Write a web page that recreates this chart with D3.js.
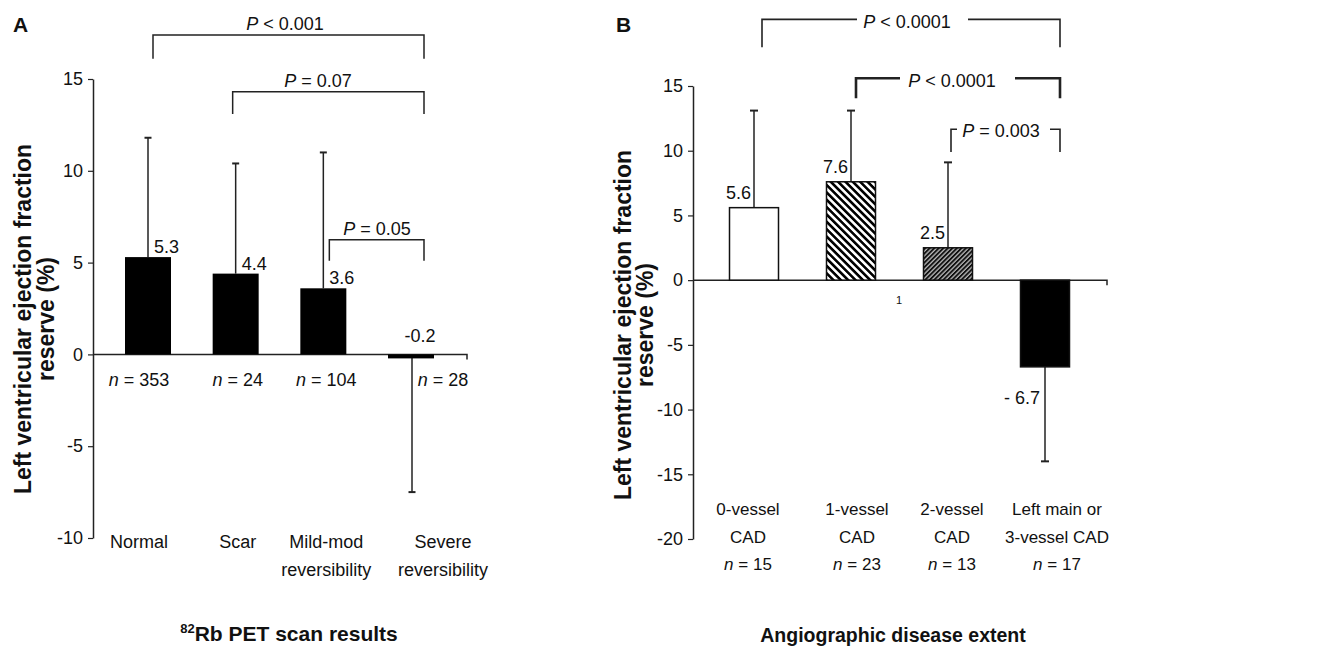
<!DOCTYPE html>
<meta charset="utf-8">
<script src="https://d3js.org/d3.v7.min.js"></script>
<style>
  body { margin: 0; background: #fff; }
  text { font-family: "Liberation Sans", Arial, sans-serif; fill: #111; }
</style>
<svg id="chart" width="1336" height="654"></svg>
<script>

// ---- data: panel A (82Rb PET scan results)
var catsA = ["Normal", "Scar", "Mild-mod reversibility", "Severe reversibility"];
var catLinesA = [["Normal"], ["Scar"], ["Mild-mod", "reversibility"], ["Severe", "reversibility"]];
var meanA = [5.3, 4.4, 3.6, -0.2];
var errEndA = [11.8, 10.4, 11.0, -7.5];
var nA = [353, 24, 104, 28];
var ticksA = [-10, -5, 0, 5, 10, 15];
var bracketsA = [
  { from: "Normal", to: "Severe reversibility", op: "< 0.001" },
  { from: "Scar", to: "Severe reversibility", op: "= 0.07" },
  { from: "Mild-mod reversibility", to: "Severe reversibility", op: "= 0.05" }
];

// ---- data: panel B (angiographic disease extent)
var catsB = ["0-vessel CAD", "1-vessel CAD", "2-vessel CAD", "Left main or 3-vessel CAD"];
var catLinesB = [["0-vessel", "CAD"], ["1-vessel", "CAD"], ["2-vessel", "CAD"], ["Left main or", "3-vessel CAD"]];
var meanB = [5.6, 7.6, 2.5, -6.7];
var meanLabelB = ["5.6", "7.6", "2.5", "- 6.7"];
var errEndB = [13.1, 13.1, 9.1, -14.0];
var nB = [15, 23, 13, 17];
var ticksB = [-20, -15, -10, -5, 0, 5, 10, 15];
var fillB = ["white", "url(#hatchWide)", "url(#hatchFine)", "#000"];
var bracketsB = [
  { from: "0-vessel CAD", to: "Left main or 3-vessel CAD", op: "< 0.0001" },
  { from: "1-vessel CAD", to: "Left main or 3-vessel CAD", op: "< 0.0001" },
  { from: "2-vessel CAD", to: "Left main or 3-vessel CAD", op: "= 0.003" }
];

// ---- layout (not data)
var labelShiftA = [-9, 2, 3, 32];
var labelShiftB = [-6, 6, 4, 12];
var bracketLevelA = [[17.4, 16.1], [14.3, 13.1], [6.25, 5.1]];   // [bar, leg end] in y units
var bracketLevelB = [[20.15, 18.0], [15.6, 14.05], [11.66, 9.9]];

var svg = d3.select("#chart");

// patterns
var defs = svg.append("defs");
var pw = defs.append("pattern").attr("id", "hatchWide")
  .attr("patternUnits", "userSpaceOnUse").attr("width", 5.2).attr("height", 10)
  .attr("patternTransform", "rotate(-45)");
pw.append("rect").attr("width", 5.2).attr("height", 10).attr("fill", "#fff");
pw.append("rect").attr("width", 2.6).attr("height", 10).attr("fill", "#000");
var pf = defs.append("pattern").attr("id", "hatchFine")
  .attr("patternUnits", "userSpaceOnUse").attr("width", 3.2).attr("height", 10)
  .attr("patternTransform", "rotate(45)");
pf.append("rect").attr("width", 3.2).attr("height", 10).attr("fill", "#bbb");
pf.append("rect").attr("width", 1.9).attr("height", 10).attr("fill", "#111");

function pText(g, x, y, op, anchor) {
  var t = g.append("text").attr("x", x).attr("y", y)
    .attr("text-anchor", anchor || "middle").style("font-size", "18px");
  t.append("tspan").style("font-style", "italic").text("P");
  t.append("tspan").text(" " + op);
  return t;
}

function yAxis(g, y, ticks, x0) {
  var ax = g.append("g").attr("transform", "translate(" + x0 + ",0)")
    .call(d3.axisLeft(y).tickValues(ticks).tickSize(5).tickSizeOuter(0).tickPadding(5)
      .tickFormat(function (d) { return String(d); }));
  ax.select(".domain").attr("stroke", "#222").attr("stroke-width", 1.5);
  ax.selectAll(".tick line").attr("stroke", "#222").attr("stroke-width", 1.2);
  ax.selectAll(".tick text").style("font-size", "18px").style("font-family", "Liberation Sans, Arial, sans-serif").attr("fill", "#111");
}

function yTitle(g, cy, x1, x2) {
  var t = g.append("text").attr("transform", "translate(0," + cy + ") rotate(-90)")
    .attr("text-anchor", "middle").style("font-size", "23px").style("font-weight", "bold");
  t.append("tspan").attr("x", 0).attr("y", x1).text("Left ventricular ejection fraction");
  t.append("tspan").attr("x", 0).attr("y", x2).text("reserve (%)");
}

// ================= Panel A =================
var gA = svg.append("g");
var yA = d3.scaleLinear().domain([-10, 15]).range([538, 79]);
var xA = d3.scalePoint().domain(catsA).range([148, 411]);
var bwA = 46, axisXA = 93, endXA = 467;

gA.append("text").attr("x", 13).attr("y", 32).style("font-size", "21px").style("font-weight", "bold").text("A");

yAxis(gA, yA, ticksA, axisXA);
gA.append("path").attr("d", "M" + axisXA + "," + yA(0) + "H" + endXA + "v5")
  .attr("fill", "none").attr("stroke", "#222").attr("stroke-width", 1.5);

// error bars
gA.selectAll(".errA").data(catsA).enter().append("g").each(function (c, i) {
  var x = xA(c) + (i === 3 ? 1 : 0);
  var g = d3.select(this);
  g.append("line").attr("x1", x).attr("x2", x).attr("y1", yA(meanA[i])).attr("y2", yA(errEndA[i]))
    .attr("stroke", "#222").attr("stroke-width", 1.5);
  g.append("line").attr("x1", x - 3.5).attr("x2", x + 3.5).attr("y1", yA(errEndA[i])).attr("y2", yA(errEndA[i]))
    .attr("stroke", "#222").attr("stroke-width", 2);
});

// bars
gA.selectAll(".barA").data(catsA).enter().append("rect")
  .attr("x", function (c) { return xA(c) - bwA / 2; })
  .attr("y", function (c, i) { return yA(Math.max(0, meanA[i])); })
  .attr("width", bwA)
  .attr("height", function (c, i) { return Math.max(4, Math.abs(yA(meanA[i]) - yA(0))); })
  .attr("fill", "#000");

// value labels
gA.selectAll(".valA").data(catsA).enter().append("text")
  .attr("x", function (c, i) { return meanA[i] < 0 ? xA(c) + 9 : xA(c) + 6; })
  .attr("y", function (c, i) { return meanA[i] < 0 ? yA(0) - 12 : yA(meanA[i]) - 4; })
  .attr("text-anchor", function (c, i) { return meanA[i] < 0 ? "middle" : "start"; })
  .style("font-size", "18px")
  .text(function (c, i) { return String(meanA[i]); });

// n labels
gA.selectAll(".nA").data(catsA).enter().append("text")
  .attr("x", function (c, i) { return xA(c) + labelShiftA[i]; })
  .attr("y", 386).attr("text-anchor", "middle").style("font-size", "18px")
  .each(function (c, i) {
    var t = d3.select(this);
    t.append("tspan").style("font-style", "italic").text("n");
    t.append("tspan").text(" = " + nA[i]);
  });

// category labels
gA.selectAll(".catA").data(catsA).enter().append("text")
  .attr("text-anchor", "middle").style("font-size", "18px")
  .each(function (c, i) {
    var t = d3.select(this);
    catLinesA[i].forEach(function (line, j) {
      t.append("tspan").attr("x", xA(c) + labelShiftA[i]).attr("y", 548 + j * 28).text(line);
    });
  });

// brackets
bracketsA.forEach(function (b, i) {
  var x1 = xA(b.from) + (i === 1 ? -3 : (i === 0 ? 5 : 6)), x2 = xA(b.to) + 13;
  var yb = yA(bracketLevelA[i][0]), yl = yA(bracketLevelA[i][1]);
  gA.append("path").attr("d", "M" + x1 + "," + yl + "V" + yb + "H" + x2 + "V" + yl)
    .attr("fill", "none").attr("stroke", "#222").attr("stroke-width", 1.5);
  var tx = i === 0 ? 285 : (i === 1 ? 318 : 377);
  pText(gA, tx, yb - 5, b.op);
});

// axis titles
var tA = gA.append("text").attr("x", 289).attr("y", 641).attr("text-anchor", "middle")
  .style("font-size", "21px").style("font-weight", "bold");
tA.append("tspan").style("font-size", "13px").attr("dy", -8).text("82");
tA.append("tspan").attr("dy", 8).text("Rb PET scan results");

yTitle(gA, 319, 31, 54);

// ================= Panel B =================
var gB = svg.append("g");
var yB = d3.scaleLinear().domain([-20, 15]).range([539, 86]);
var xB = d3.scalePoint().domain(catsB).range([754, 1045]);
var bwB = 49, axisXB = 693, endXB = 1107;

gB.append("text").attr("x", 616).attr("y", 32).style("font-size", "21px").style("font-weight", "bold").text("B");

yAxis(gB, yB, ticksB, axisXB);
gB.append("path").attr("d", "M" + axisXB + "," + yB(0) + "H" + endXB + "v5")
  .attr("fill", "none").attr("stroke", "#222").attr("stroke-width", 1.5);

// stray "1" under the axis
gB.append("text").attr("x", 899).attr("y", 304).attr("text-anchor", "middle")
  .style("font-size", "11px").text("1");

// error bars
gB.selectAll(".errB").data(catsB).enter().append("g").each(function (c, i) {
  var x = xB(c);
  var g = d3.select(this);
  g.append("line").attr("x1", x).attr("x2", x).attr("y1", yB(meanB[i])).attr("y2", yB(errEndB[i]))
    .attr("stroke", "#222").attr("stroke-width", 1.5);
  g.append("line").attr("x1", x - 4).attr("x2", x + 4).attr("y1", yB(errEndB[i])).attr("y2", yB(errEndB[i]))
    .attr("stroke", "#222").attr("stroke-width", 2);
});

// bars
gB.selectAll(".barB").data(catsB).enter().append("rect")
  .attr("x", function (c) { return xB(c) - bwB / 2; })
  .attr("y", function (c, i) { return yB(Math.max(0, meanB[i])); })
  .attr("width", bwB)
  .attr("height", function (c, i) { return Math.abs(yB(meanB[i]) - yB(0)); })
  .attr("fill", function (c, i) { return fillB[i]; })
  .attr("stroke", "#111").attr("stroke-width", 1.5);

// value labels
gB.selectAll(".valB").data(catsB).enter().append("text")
  .attr("x", function (c, i) { return xB(c) - (meanB[i] < 0 ? 5 : 3); })
  .attr("y", function (c, i) { return meanB[i] < 0 ? yB(meanB[i]) + 37 : yB(meanB[i]) - 9; })
  .attr("text-anchor", "end").style("font-size", "18px")
  .text(function (c, i) { return meanLabelB[i]; });

// category labels + n
gB.selectAll(".catB").data(catsB).enter().append("text")
  .attr("text-anchor", "middle").style("font-size", "17px")
  .each(function (c, i) {
    var t = d3.select(this), cx = xB(c) + labelShiftB[i];
    catLinesB[i].forEach(function (line, j) {
      t.append("tspan").attr("x", cx).attr("y", 515 + j * 27.5).text(line);
    });
    t.append("tspan").attr("x", cx).attr("y", 570).style("font-style", "italic").text("n");
    t.append("tspan").text(" = " + nB[i]);
  });

// brackets (horizontal lines broken around the label)
var bracketTextB = [[907, 867, 948], [952, 910, 995], [1001, 962, 1040]];
bracketsB.forEach(function (b, i) {
  var x1 = xB(b.from) + [8, 5, 3][i], x2 = xB(b.to) + 15;
  var yb = yB(bracketLevelB[i][0]), yl = yB(bracketLevelB[i][1]);
  var sw = i === 1 ? 2.6 : 1.6;
  var gap = bracketTextB[i];
  var leftEnd = i === 2 ? x1 + 6 : gap[1] - 10;
  var rightStart = i === 2 ? x2 - 10 : gap[2] + 20;
  gB.append("path").attr("d", "M" + x1 + "," + yl + "V" + yb + "H" + leftEnd)
    .attr("fill", "none").attr("stroke", "#222").attr("stroke-width", sw);
  gB.append("path").attr("d", "M" + rightStart + "," + yb + "H" + x2 + "V" + yl)
    .attr("fill", "none").attr("stroke", "#222").attr("stroke-width", sw);
  pText(gB, gap[0], yb + (i === 2 ? 8 : 9), b.op);
});

// axis titles
gB.append("text").attr("x", 893).attr("y", 642).attr("text-anchor", "middle")
  .style("font-size", "19.5px").style("font-weight", "bold").text("Angiographic disease extent");

yTitle(gB, 325, 631, 653);

</script>
